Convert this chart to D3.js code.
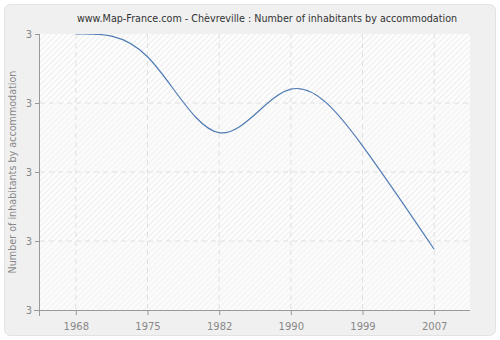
<!DOCTYPE html>
<html>
<head>
<meta charset="utf-8">
<script src="https://cdn.jsdelivr.net/npm/d3@7"></script>
<style>
html,body{margin:0;padding:0;background:#fff;}
svg{display:block;}
text{font-family:"DejaVu Sans",Verdana,sans-serif;}
</style>
</head>
<body>
<svg id="chart" width="500" height="340"></svg>
<script>
const years = ["1968","1975","1982","1990","1999","2007"];
const values = [3.2, 3.167, 3.057, 3.12, 3.038, 2.888];
const yTicks = [2.8, 2.9, 3.0, 3.1, 3.2];
const title = "www.Map-France.com - Chèvreville : Number of inhabitants by accommodation";
const yLabel = "Number of inhabitants by accommodation";

const svg = d3.select("#chart");
const W = 500, H = 340;
const m = {left: 40, right: 30, top: 34, bottom: 30};
const x0 = m.left, x1 = W - m.right, y0 = m.top, y1 = H - m.bottom;

const defs = svg.append("defs");
function hatch(id, bg, color) {
  const p = defs.append("pattern").attr("id", id).attr("patternUnits", "userSpaceOnUse")
    .attr("width", 4).attr("height", 4).attr("patternTransform", "rotate(45)");
  p.append("rect").attr("width", 4).attr("height", 4).attr("fill", bg);
  p.append("line").attr("x1", 0).attr("y1", 0).attr("x2", 0).attr("y2", 4)
    .attr("stroke", color).attr("stroke-width", 1.4);
}
hatch("h1", "#fdfdfd", "#e6e6e6");
hatch("h2", "#fbfbfb", "#efefef");
defs.append("clipPath").attr("id", "clip").append("rect")
  .attr("x", x0).attr("y", y0).attr("width", x1 - x0).attr("height", y1 - y0);

// background frame
svg.append("rect").attr("x", 4.5).attr("y", 4.5).attr("width", 491).attr("height", 331)
  .attr("rx", 6).attr("fill", "#f0f0f0").attr("stroke", "#e2e2e2");

const x = d3.scalePoint().domain(years).range([x0, x1]).padding(0.5);
const y = d3.scaleLinear().domain([2.8, 3.2]).range([y1, y0]);

// bands
for (let i = 0; i < yTicks.length - 1; i++) {
  const a = y(yTicks[i + 1]), b = y(yTicks[i]);
  svg.append("rect").attr("x", x0).attr("y", a).attr("width", x1 - x0).attr("height", b - a)
    .attr("fill", i % 2 === 1 ? "url(#h1)" : "url(#h2)");
}

// grid
svg.append("g").selectAll("line").data(yTicks.slice(1, -1)).join("line")
  .attr("x1", x0).attr("x2", x1).attr("y1", d => y(d)).attr("y2", d => y(d))
  .attr("stroke", "#e0e0e0").attr("stroke-dasharray", "5,4");
svg.append("g").selectAll("line").data(years).join("line")
  .attr("x1", d => x(d)).attr("x2", d => x(d)).attr("y1", y0).attr("y2", y1)
  .attr("stroke", "#e0e0e0").attr("stroke-dasharray", "5,4");

// line
const line = d3.line().x((d, i) => x(years[i])).y(d => y(d)).curve(d3.curveNatural);
svg.append("path").datum(values).attr("d", line).attr("clip-path", "url(#clip)")
  .attr("fill", "none").attr("stroke", "#4f7bb4").attr("stroke-width", 1.2);

// axes
const xAxis = d3.axisBottom(x).tickSize(5).tickSizeOuter(0);
const gx = svg.append("g").attr("transform", `translate(0,${y1})`).call(xAxis);
gx.select(".domain").attr("d", `M${x0 - 6},0.5H${x1}`);
const yAxis = d3.axisLeft(y).tickValues(yTicks).tickFormat(d3.format(".0f")).tickSize(5).tickSizeOuter(0);
const gy = svg.append("g").attr("transform", `translate(${x0},0)`).call(yAxis);
gy.select(".domain").attr("d", `M-0.5,${y0}V${y1 + 6}`);
[gx, gy].forEach(g => {
  g.selectAll(".domain").attr("stroke", "#999");
  g.selectAll(".tick line").attr("stroke", "#999");
  g.selectAll("text").attr("fill", "#888").style("font-size", "10px")
    .style("font-family", "DejaVu Sans, Verdana, sans-serif");
});
gx.selectAll("text").attr("dy", "1.2em");

svg.append("text").attr("x", 267).attr("y", 22).attr("text-anchor", "middle")
  .attr("fill", "#333").style("font-size", "9.6px").text(title);
svg.append("text").attr("transform", `translate(16,${(y0 + y1) / 2}) rotate(-90)`)
  .attr("text-anchor", "middle").attr("fill", "#888").style("font-size", "9.6px").text(yLabel);
</script>
</body>
</html>
